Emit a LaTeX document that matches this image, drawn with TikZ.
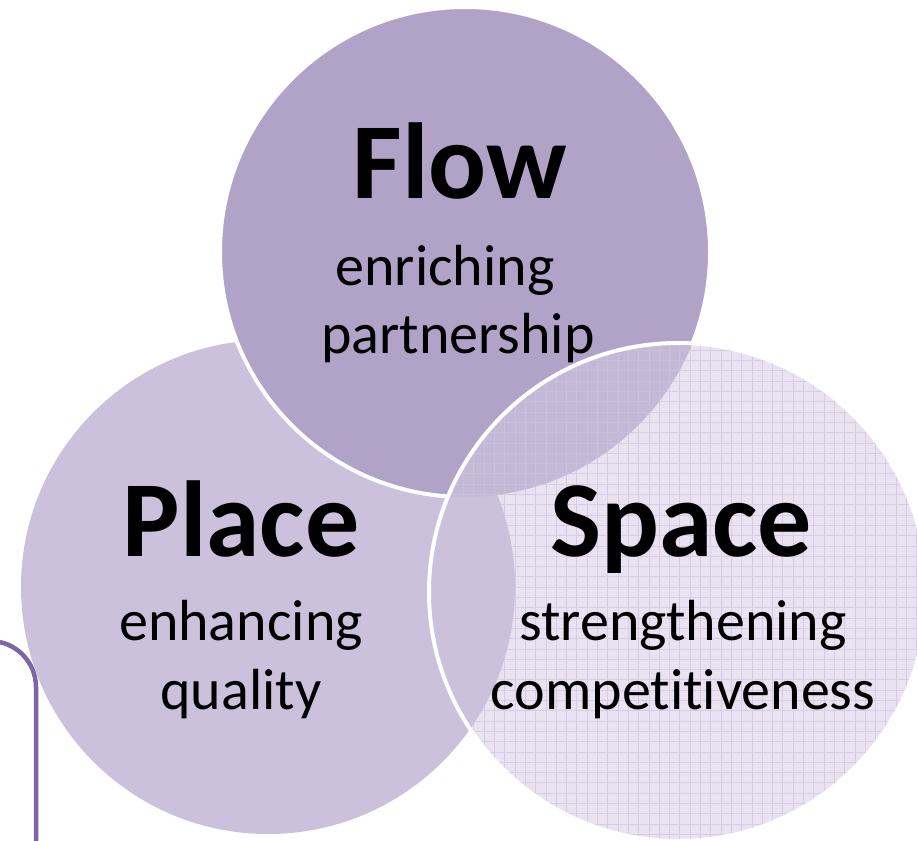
\documentclass[tikz,border=0pt]{standalone}
\usepackage{fontspec}
\setmainfont{Carlito}[Ligatures={NoCommon}]
\definecolor{flowcol}{HTML}{B1A2C8}
\definecolor{placecol}{HTML}{CBC1DC}
\definecolor{spacecol}{HTML}{E8E2F1}
\definecolor{overlapcol}{HTML}{C4B8D7}
\definecolor{gridcol}{HTML}{D6CDE5}
\definecolor{linecol}{HTML}{7E65A6}
\tikzset{
  headtext/.style={anchor=base, font=\fontsize{108pt}{110pt}\selectfont\bfseries, text=black, inner sep=0pt},
  subtext/.style={anchor=base, font=\fontsize{58pt}{60pt}\selectfont, text=black, inner sep=0pt},
  whiteborder/.style={draw=white, line width=4pt}
}
\begin{document}
\begin{tikzpicture}[x=1pt,y=-1pt]
\useasboundingbox (0,0) rectangle (917,840);
\coordinate (fc) at (465,252);
\coordinate (pc) at (268,587);
\coordinate (sc) at (678,592);
% frame line at left
\coordinate (l0) at (-40,641);
\coordinate (l1) at (36,641);
\coordinate (l2) at (36,870);
\draw[linecol, line width=4.5pt, rounded corners=46pt] (l0) -- (l1) -- (l2);
% Place circle
\fill[placecol] (pc) circle[radius=247pt];
% Flow circle
\fill[flowcol] (fc) circle[radius=245pt];
\draw[whiteborder] (fc) circle[radius=245pt];
% Space circle
\fill[spacecol] (sc) circle[radius=249pt];
\begin{scope}
  \clip (sc) circle[radius=249pt];
  \draw[gridcol, line width=0.7pt, step=10.3pt] (400,330) grid (940,860);
  \fill[placecol] (pc) circle[radius=247pt];
  \fill[overlapcol] (fc) circle[radius=245pt];
  \clip (fc) circle[radius=245pt];
  \draw[gridcol!70!flowcol, line width=0.7pt, step=10.3pt] (400,330) grid (940,860);
\end{scope}
\draw[whiteborder] (sc) circle[radius=249pt];
% texts
\node[headtext] (flowt) at (460,198) {Flow};
\node[subtext] (flows1) at (445,285) {enriching};
\node[subtext] (flows2) at (458,353) {partnership};
\node[headtext] (placet) at (241,556) {Place};
\node[subtext] (places1) at (241,640) {enhancing};
\node[subtext] (places2) at (241,709) {quality};
\node[headtext] (spacet) at (681,556) {Space};
\node[subtext] (spaces1) at (683,640) {strengthening};
\node[subtext] (spaces2) at (683,709) {competitiveness};
\end{tikzpicture}
\end{document}
